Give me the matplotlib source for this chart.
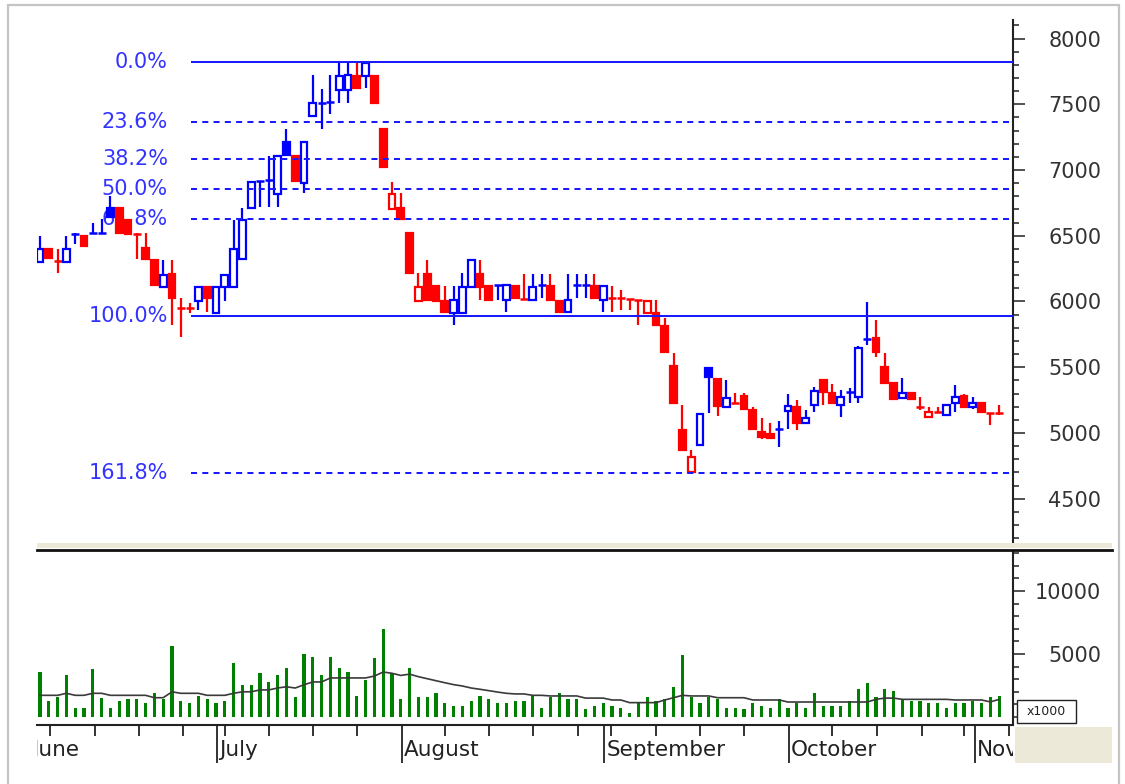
# imports #
import numpy as np
import matplotlib
matplotlib.use('Agg')
import matplotlib.pyplot as plt
import matplotlib.transforms as mtransforms
from matplotlib.patches import Rectangle
from matplotlib.ticker import MultipleLocator

# data #
# daily candles, June -> early November (one entry per trading day)
opens = [6300, 6400, 6310, 6300, 6510, 6500, 6520, 6520, 6710, 6710,
         6620, 6520, 6410, 6315, 6110, 6210, 5955, 5955, 6000, 6110,
         5910, 6110, 6110, 6320, 6710, 6915, 6920, 6820, 7215, 7105,
         6900, 7410, 7510, 7515, 7610, 7610, 7715, 7715, 7715, 7310,
         6705, 6710, 6520, 6005, 6210, 6118, 6005, 5912, 5912, 6110,
         6210, 6118, 6120, 6010, 6118, 6025, 6010, 6120, 6118, 6005,
         5920, 6120, 6122, 6118, 6010, 6030, 6030, 6020, 6015, 5915,
         5912, 5815, 5510, 5020, 4705, 4910, 5495, 5410, 5200, 5235,
         5280, 5175, 5005, 4995, 5025, 5168, 5200, 5076, 5213, 5400,
         5305, 5213, 5305, 5274, 5710, 5720, 5500, 5380, 5266, 5304,
         5200, 5121, 5158, 5137, 5228, 5281, 5197, 5228, 5155, 5155]
highs = [6500, 6400, 6400, 6500, 6520, 6500, 6600, 6630, 6800, 6710,
         6620, 6520, 6520, 6315, 6315, 6315, 6025, 5990, 6110, 6110,
         6110, 6200, 6620, 6710, 6910, 6920, 7105, 7105, 7310, 7105,
         7210, 7720, 7615, 7720, 7815, 7815, 7815, 7815, 7715, 7310,
         6910, 6825, 6520, 6215, 6315, 6118, 6118, 6118, 6215, 6315,
         6315, 6118, 6125, 6125, 6118, 6210, 6210, 6210, 6210, 6005,
         6210, 6210, 6210, 6210, 6118, 6118, 6090, 6020, 6015, 6005,
         6010, 5875, 5610, 5215, 4870, 5145, 5495, 5410, 5400, 5305,
         5305, 5195, 5115, 5075, 5090, 5295, 5250, 5175, 5350, 5400,
         5372, 5327, 5342, 5661, 5996, 5860, 5608, 5380, 5418, 5312,
         5274, 5197, 5197, 5213, 5365, 5296, 5274, 5228, 5155, 5213]
lows = [6300, 6320, 6220, 6300, 6440, 6420, 6515, 6520, 6640, 6520,
        6515, 6320, 6320, 6125, 6110, 5820, 5730, 5910, 5935, 5920,
        5910, 6000, 6110, 6320, 6710, 6720, 6720, 6720, 7115, 6915,
        6825, 7410, 7310, 7425, 7510, 7510, 7625, 7625, 7510, 7025,
        6705, 6630, 6215, 6005, 6010, 6005, 5920, 5820, 5912, 6110,
        6010, 6010, 6010, 5920, 6025, 6020, 6010, 6025, 6010, 5920,
        5920, 6025, 6025, 6025, 5920, 5920, 5935, 5935, 5820, 5915,
        5820, 5615, 5230, 4870, 4705, 4910, 5150, 5130, 5200, 5228,
        5180, 5030, 4955, 4962, 4893, 5030, 5022, 5076, 5160, 5213,
        5228, 5121, 5228, 5228, 5669, 5578, 5380, 5258, 5266, 5258,
        5175, 5121, 5152, 5137, 5160, 5197, 5182, 5160, 5061, 5137]
closes = [6400, 6330, 6300, 6400, 6520, 6420, 6520, 6525, 6640, 6520,
          6515, 6510, 6320, 6125, 6200, 6030, 5950, 5945, 6110, 6030,
          6110, 6200, 6400, 6620, 6910, 6920, 6925, 7105, 7115, 6915,
          7210, 7510, 7517, 7520, 7715, 7720, 7625, 7815, 7510, 7025,
          6815, 6630, 6215, 6110, 6010, 6005, 5920, 6010, 6110, 6315,
          6110, 6010, 6125, 6125, 6025, 6020, 6110, 6125, 6010, 5920,
          6010, 6125, 6125, 6025, 6118, 6025, 6020, 6015, 6010, 6005,
          5820, 5615, 5230, 4870, 4815, 5145, 5425, 5205, 5265, 5228,
          5180, 5030, 4970, 4962, 5030, 5205, 5075, 5114, 5320, 5312,
          5228, 5274, 5312, 5646, 5715, 5616, 5380, 5258, 5304, 5258,
          5197, 5160, 5155, 5213, 5274, 5197, 5228, 5160, 5152, 5150]
prev_close = 6300   # close of the day before the first candle

# volume, x1000 shares
volume = [3600, 1250, 1600, 3300, 750, 750, 3800, 1500, 750, 1250,
          1400, 1400, 1100, 1900, 1450, 5600, 1250, 1100, 1700, 1400,
          1100, 1250, 4250, 2500, 2500, 3500, 2800, 3300, 3900, 1550,
          5000, 4750, 3300, 4750, 3900, 3600, 1700, 2900, 4700, 7000,
          3500, 1400, 3900, 1550, 1550, 1900, 1100, 900, 900, 1250,
          1700, 1400, 1100, 1100, 1250, 1250, 1700, 750, 1550, 1900,
          1400, 1400, 600, 900, 1100, 900, 750, 300, 1100, 1550,
          1250, 1400, 2350, 4900, 1550, 1100, 1550, 1400, 750, 750,
          600, 1100, 900, 750, 1400, 750, 1100, 750, 1900, 900,
          900, 900, 1250, 2200, 2700, 1550, 2200, 2050, 1400, 1250,
          1250, 1100, 1100, 750, 1100, 1100, 1250, 1100, 1550, 1700]
volume_avg = [1720, 1720, 1720, 1880, 1720, 1720, 1880, 1880, 1720, 1720,
              1720, 1720, 1720, 1530, 1530, 2000, 1880, 1880, 1880, 1720,
              1720, 1720, 1880, 2000, 2000, 2150, 2150, 2300, 2400, 2300,
              2560, 2780, 2780, 3100, 3100, 3100, 3100, 3100, 3250, 3570,
              3470, 3300, 3400, 3200, 3040, 2880, 2720, 2570, 2460, 2300,
              2200, 2090, 1980, 1880, 1830, 1830, 1720, 1720, 1670, 1670,
              1670, 1670, 1500, 1500, 1500, 1350, 1350, 1140, 1140, 1140,
              1140, 1350, 1530, 1720, 1670, 1670, 1670, 1530, 1530, 1530,
              1530, 1350, 1350, 1350, 1350, 1190, 1190, 1190, 1190, 1190,
              1190, 1190, 1190, 1190, 1190, 1400, 1500, 1500, 1400, 1400,
              1400, 1400, 1400, 1400, 1350, 1350, 1350, 1350, 1200, 1400]

# fibonacci retracement
fib_high = 7820
fib_low = 5890
fib_start_day = 17.2
fib_ratios = [0.0, 0.236, 0.382, 0.5, 0.618, 1.0, 1.618]
fib_labels = ['0.0%', '23.6%', '38.2%', '50.0%', '61.8%', '100.0%', '161.8%']

# date axis
months = ['June', 'July', 'August', 'September', 'October', 'Nov']
month_start = [-1.15, 20.1, 41.1, 64.1, 85.1, 106.2]
week_ticks = [1.1, 6.2, 11.2, 16.2, 21, 26, 31, 36, 46, 51, 56, 61.1,
              64.9, 70, 75, 80, 90, 95.1, 100.2, 105, 110.1]
price_ticks = [4500, 5000, 5500, 6000, 6500, 7000, 7500, 8000]
volume_ticks = [5000, 10000]

# colours #
RED = '#ff0000'
BLUE = '#0000ff'
FIB = '#1a1aff'
AXC = '#222222'

# figure #
W, H = 1125, 784
fig = plt.figure(figsize=(W / 100, H / 100), dpi=100)
fig.patch.set_facecolor('white')


def box(x0, y0, x1, y1):
    # pixel box (top-left origin) -> figure fraction rect
    return [x0 / W, 1 - y1 / H, (x1 - x0) / W, (y1 - y0) / H]


xlim = (-0.34, 110.57)

# price panel #
ax = fig.add_axes(box(37, 20, 1013, 545))
ax.set_xlim(*xlim)
ax.set_ylim(4148, 8141)
for s in ['left', 'top', 'bottom']:
    ax.spines[s].set_visible(False)
ax.spines['right'].set_color(AXC)
ax.spines['right'].set_linewidth(1.5)
ax.set_xticks([])
ax.yaxis.tick_right()
ax.set_yticks(price_ticks)
ax.set_yticklabels([str(t) for t in price_ticks], ha='right')
ax.yaxis.set_minor_locator(MultipleLocator(100))
ax.tick_params(axis='y', which='major', direction='out', length=8.6, width=1.1,
               color=AXC, pad=55, labelsize=15, labelcolor='#333333')
ax.tick_params(axis='y', which='minor', direction='out', length=4.3, width=1.1, color=AXC)

prev = [prev_close] + closes[:-1]
for i in range(len(closes)):
    o, h, l, c = opens[i], highs[i], lows[i], closes[i]
    col = BLUE if c >= prev[i] else RED
    ax.vlines(i, l, h, color=col, lw=1.6, zorder=3)
    if abs(c - o) <= 12:
        ax.hlines((o + c) / 2, i - 0.45, i + 0.45, color=col, lw=1.8, zorder=4)
    elif c > o:
        ax.add_patch(Rectangle((i - 0.38, o), 0.76, c - o, facecolor='white',
                               edgecolor=col, lw=1.6, zorder=4))
    else:
        ax.add_patch(Rectangle((i - 0.38, c), 0.76, o - c, facecolor=col,
                               edgecolor=col, lw=1.6, zorder=4))

trans = mtransforms.blended_transform_factory(ax.transAxes, ax.transData)
for r, lab in zip(fib_ratios, fib_labels):
    lvl = fib_high - r * (fib_high - fib_low)
    ls = '-' if r in (0.0, 1.0) else (0, (3, 2.6))
    ax.hlines(lvl, fib_start_day, xlim[1], color=FIB, lw=1.45, linestyles=[ls], zorder=5)
    ax.text(0.1342, lvl, lab, transform=trans, ha='right', va='center',
            fontsize=15, color='#3333ff', zorder=1)

# volume panel #
ax2 = fig.add_axes(box(37, 552, 1013, 725))
ax2.set_xlim(*xlim)
ax2.set_ylim(-635, 13095)
for s in ['left', 'top']:
    ax2.spines[s].set_visible(False)
for s in ['right', 'bottom']:
    ax2.spines[s].set_color(AXC)
    ax2.spines[s].set_linewidth(1.5)
ax2.set_xticks([])
ax2.yaxis.tick_right()
ax2.set_yticks(volume_ticks)
ax2.set_yticklabels([str(t) for t in volume_ticks], ha='right')
ax2.yaxis.set_minor_locator(MultipleLocator(1000))
ax2.tick_params(axis='y', which='major', direction='out', length=8.6, width=1.1,
                color=AXC, pad=55, labelsize=15, labelcolor='#333333')
ax2.tick_params(axis='y', which='minor', direction='out', length=4.3, width=1.1, color=AXC)

days = np.arange(len(volume))
ax2.bar(days, volume, width=0.36, color='#008000', zorder=2)
ax2.plot(days, volume_avg, color='#3a3a3a', lw=1.2, zorder=3)

# date strip #
ax3 = fig.add_axes(box(37, 725, 1013, 765))
ax3.set_xlim(*xlim)
ax3.set_ylim(40, 0)
ax3.axis('off')
ax3.vlines(week_ticks, 0, 11, color=AXC, lw=1.3)
ax3.vlines(month_start[1:], 0, 38, color=AXC, lw=1.3)
for name, pos in zip(months, month_start):
    ax3.text(pos + 0.25, 25, name, ha='left', va='center', fontsize=15.5,
             color='#222222', clip_on=True)

# frame, splitter and boxes #
r = box(8, 5, 1119, 800)
fig.add_artist(Rectangle(r[:2], r[2], r[3], transform=fig.transFigure,
                         fill=False, edgecolor='#c4c4c4', lw=1.6))
r = box(37, 543, 1112, 548)
fig.add_artist(Rectangle(r[:2], r[2], r[3], transform=fig.transFigure,
                         facecolor='#ece9d8', edgecolor='none'))
fig.add_artist(plt.Line2D([37 / W, 1112 / W], [1 - 550 / H, 1 - 550 / H],
                          transform=fig.transFigure, color='#111111', lw=2))
r = box(1015, 727, 1112, 763)
fig.add_artist(Rectangle(r[:2], r[2], r[3], transform=fig.transFigure,
                         facecolor='#ece9d8', edgecolor='none'))
r = box(1017, 700, 1076, 723)
fig.add_artist(Rectangle(r[:2], r[2], r[3], transform=fig.transFigure,
                         facecolor='white', edgecolor='#222222', lw=1))
fig.text((1017 + 1076) / 2 / W, 1 - 711.5 / H, 'x1000', ha='center', va='center',
         fontsize=9, color='#222222')

plt.savefig('out.png', dpi=100)
